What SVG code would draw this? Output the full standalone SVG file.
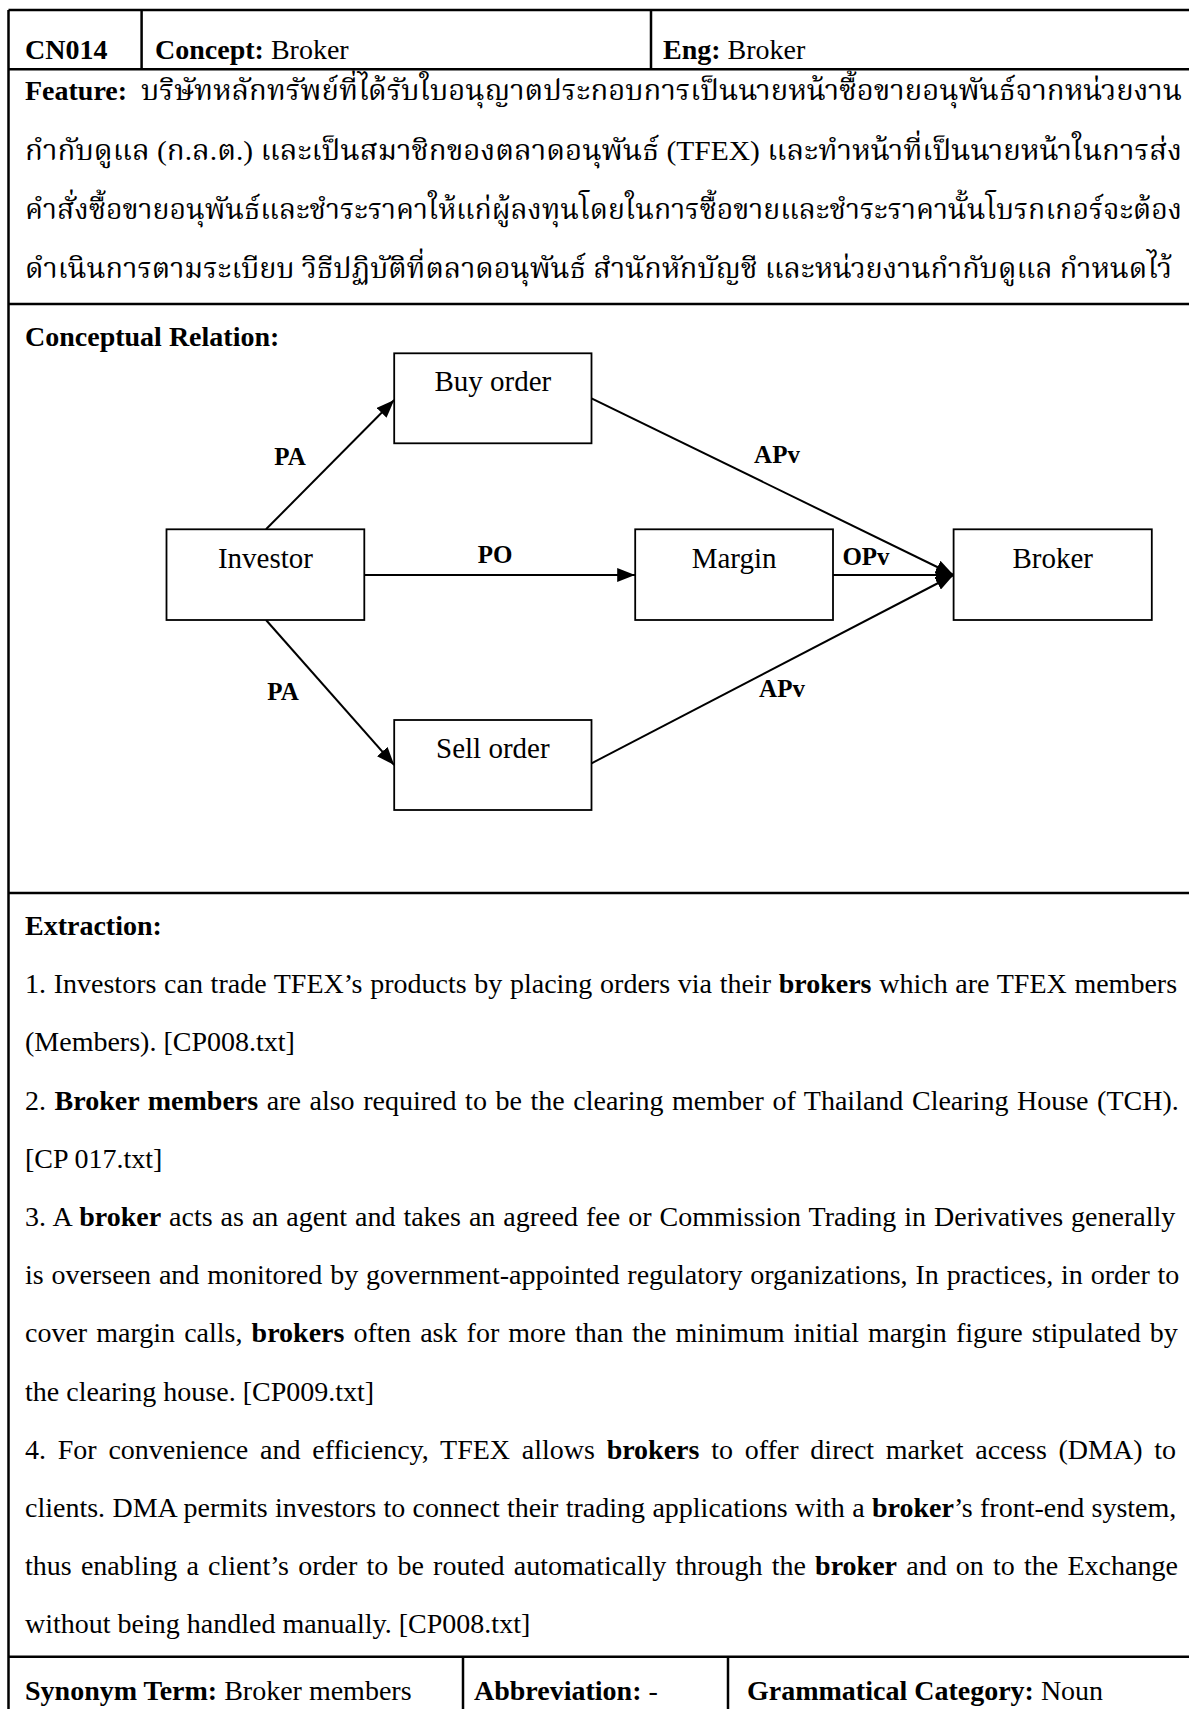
<svg xmlns="http://www.w3.org/2000/svg" width="1189" height="1709" viewBox="0 0 1189 1709">
<defs>
<style>
.t{font-family:"Liberation Serif","Times New Roman",serif;font-size:28px;fill:#000}
.b{font-weight:bold}
.th{font-family:"Liberation Serif","Noto Serif Thai","Noto Sans Thai","Loma","Garuda","Kinnari","Norasi",serif;font-size:28px;fill:#000}
.lbl{font-family:"Liberation Serif","Times New Roman",serif;font-size:25px;font-weight:bold;fill:#000;text-anchor:middle}
.nl{font-family:"Liberation Serif","Times New Roman",serif;font-size:29px;fill:#000;text-anchor:middle}
.grid{stroke:#000;stroke-width:2.5;fill:none}
.box{stroke:#000;stroke-width:1.8;fill:#fff}
.con{stroke:#000;stroke-width:2;fill:none;marker-end:url(#arr)}
</style>
<marker id="arr" viewBox="0 0 18 14" refX="18" refY="7" markerWidth="18" markerHeight="14" markerUnits="userSpaceOnUse" orient="auto">
<path d="M0,0 L18,7 L0,14 z" fill="#000"/>
</marker>
</defs>
<rect x="0" y="0" width="1189" height="1709" fill="#fff"/>

<g id="table">
<path class="grid" d="M8.5,10 H1189 M8.5,69.3 H1189 M8.5,304 H1189 M8.5,893 H1189 M8.5,1656.7 H1189 M8.5,10 V1709 M141.6,10 V69.3 M651,10 V69.3 M463,1656.7 V1709 M728,1656.7 V1709"/>
</g>

<g id="header">
<text class="t b" x="25" y="59">CN014</text>
<text class="t" x="155" y="59"><tspan class="b">Concept:</tspan> Broker</text>
<text class="t" x="663" y="59"><tspan class="b">Eng:</tspan> Broker</text>
</g>

<g id="feature">
<text class="t b" x="25" y="100">Feature:</text>
<text class="th" x="141" y="100" textLength="1041" lengthAdjust="spacingAndGlyphs">บริษัทหลักทรัพย์ที่ได้รับใบอนุญาตประกอบการเป็นนายหน้าซื้อขายอนุพันธ์จากหน่วยงาน</text>
<text class="th" x="25" y="159.5" textLength="1157" lengthAdjust="spacingAndGlyphs">กำกับดูแล (ก.ล.ต.) และเป็นสมาชิกของตลาดอนุพันธ์ (TFEX) และทำหน้าที่เป็นนายหน้าในการส่ง</text>
<text class="th" x="25" y="219" textLength="1157" lengthAdjust="spacingAndGlyphs">คำสั่งซื้อขายอนุพันธ์และชำระราคาให้แก่ผู้ลงทุนโดยในการซื้อขายและชำระราคานั้นโบรกเกอร์จะต้อง</text>
<text class="th" x="25" y="278" textLength="1147" lengthAdjust="spacingAndGlyphs">ดำเนินการตามระเบียบ วิธีปฏิบัติที่ตลาดอนุพันธ์ สำนักหักบัญชี และหน่วยงานกำกับดูแล กำหนดไว้</text>
</g>

<text class="t b" x="25" y="346">Conceptual Relation:</text>

<g id="connectors">
<line class="con" x1="266" y1="529.3" x2="394.2" y2="400"/>
<line class="con" x1="266" y1="620" x2="394.2" y2="765"/>
<line class="con" x1="364.3" y1="575" x2="635.2" y2="575"/>
<line class="con" x1="833" y1="575" x2="953.6" y2="575"/>
<line class="con" x1="591.5" y1="398.3" x2="953.6" y2="575"/>
<line class="con" x1="591.5" y1="763.3" x2="953.6" y2="575"/>
<text class="lbl" x="290" y="465">PA</text>
<text class="lbl" x="777" y="463">APv</text>
<text class="lbl" x="495" y="563">PO</text>
<text class="lbl" x="866" y="565">OPv</text>
<text class="lbl" x="283" y="700">PA</text>
<text class="lbl" x="782" y="697">APv</text>
</g>

<g id="node-buy">
<rect class="box" x="394.2" y="353.3" width="197.3" height="90"/>
<text class="nl" x="492.8" y="391">Buy order</text>
</g>
<g id="node-investor">
<rect class="box" x="166.5" y="529.3" width="197.8" height="90.7"/>
<text class="nl" x="265.4" y="568">Investor</text>
</g>
<g id="node-margin">
<rect class="box" x="635.2" y="529.3" width="197.8" height="90.7"/>
<text class="nl" x="734.1" y="568">Margin</text>
</g>
<g id="node-broker">
<rect class="box" x="953.6" y="529.3" width="198.2" height="90.7"/>
<text class="nl" x="1052.7" y="568">Broker</text>
</g>
<g id="node-sell">
<rect class="box" x="394.2" y="720" width="197.3" height="90"/>
<text class="nl" x="492.8" y="758">Sell order</text>
</g>

<g id="extraction">
<text class="t b" x="25" y="935">Extraction:</text>
<text class="t" x="25" y="993.2" word-spacing="0.7">1. Investors can trade TFEX’s products by placing orders via their <tspan class="b">brokers</tspan> which are TFEX members</text>
<text class="t" x="25" y="1051.4">(Members). [CP008.txt]</text>
<text class="t" x="25" y="1109.6" word-spacing="1.6">2. <tspan class="b">Broker members</tspan> are also required to be the clearing member of Thailand Clearing House (TCH).</text>
<text class="t" x="25" y="1167.8">[CP 017.txt]</text>
<text class="t" x="25" y="1226" word-spacing="1.0">3. A <tspan class="b">broker</tspan> acts as an agent and takes an agreed fee or Commission Trading in Derivatives generally</text>
<text class="t" x="25" y="1284.2" word-spacing="0.86">is overseen and monitored by government-appointed regulatory organizations, In practices, in order to</text>
<text class="t" x="25" y="1342.4" word-spacing="2.1">cover margin calls, <tspan class="b">brokers</tspan> often ask for more than the minimum initial margin figure stipulated by</text>
<text class="t" x="25" y="1400.6">the clearing house. [CP009.txt]</text>
<text class="t" x="25" y="1458.8" word-spacing="4.74">4. For convenience and efficiency, TFEX allows <tspan class="b">brokers</tspan> to offer direct market access (DMA) to</text>
<text class="t" x="25" y="1517" word-spacing="0.37">clients. DMA permits investors to connect their trading applications with a <tspan class="b">broker</tspan>’s front-end system,</text>
<text class="t" x="25" y="1575.2" word-spacing="2.2">thus enabling a client’s order to be routed automatically through the <tspan class="b">broker</tspan> and on to the Exchange</text>
<text class="t" x="25" y="1633.4">without being handled manually. [CP008.txt]</text>
</g>

<g id="footer">
<text class="t" x="25" y="1700"><tspan class="b">Synonym Term:</tspan> Broker members</text>
<text class="t" x="474" y="1700"><tspan class="b">Abbreviation:</tspan> -</text>
<text class="t" x="747" y="1700"><tspan class="b">Grammatical Category:</tspan> Noun</text>
</g>
</svg>
